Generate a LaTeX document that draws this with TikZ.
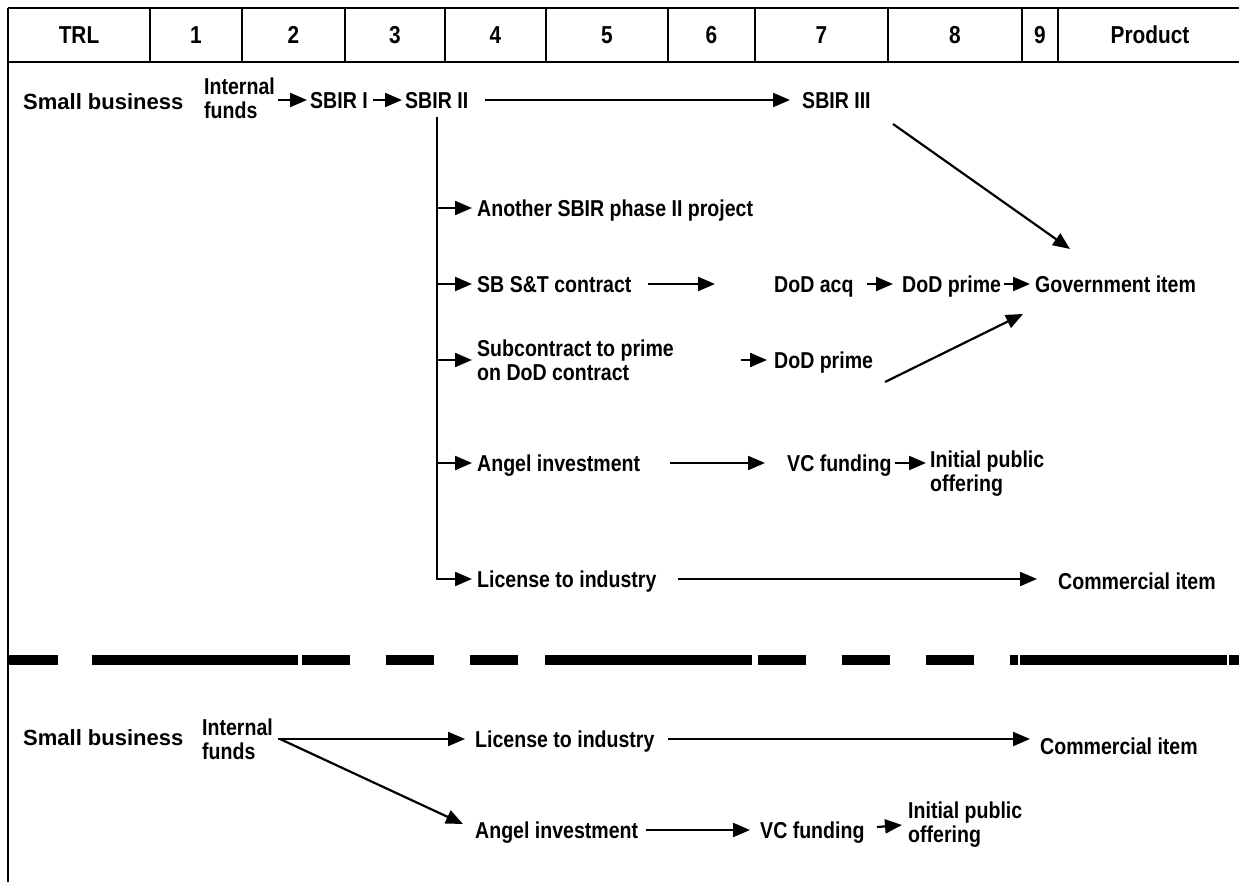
\documentclass[tikz,border=0pt]{standalone}
\usepackage{fontspec}
\setmainfont{Liberation Sans}[FakeStretch=0.85]
\newfontfamily\widesans{Liberation Sans}
\usetikzlibrary{arrows.meta,calc}
\newcommand\lblfont{\fontsize{23}{24}\selectfont\bfseries}
\newcommand\sbfont{\widesans\fontsize{22}{24}\selectfont\bfseries}
\newcommand\hdrfont{\fontsize{24.5}{26}\selectfont\bfseries}
\tikzset{
  lbl/.style={font=\lblfont, inner sep=0pt, anchor=west, text height=16.5pt, text depth=0pt},
  sbname/.style={lbl, font=\sbfont},
  lbltwo/.style={font=\lblfont, inner sep=0pt, anchor=west, align=left},
  hdr/.style={font=\hdrfont, inner sep=0pt, text height=17.5pt, text depth=0pt},
  rule/.style={line width=2.2pt},
  arr/.style={line width=2.2pt, -{Triangle[length=17pt,width=14pt]}},
  bar/.style={fill=black},
}
\begin{document}
\begin{tikzpicture}[x=1pt,y=-1pt]
\useasboundingbox (0,0) rectangle (1239,882);
\fill[white] (0,0) rectangle (1239,882);

% TRL header grid
\draw[rule] (8,8) -- (1239,8);
\draw[rule] (8,62) -- (1239,62);
\draw[rule] (8,8) -- (8,882);
\foreach \x in {150,242,345,445,546,668,755,888,1022,1058}
  \draw[rule] (\x,8) -- (\x,62);
\node[hdr] (h0) at (79,35) {TRL};
\node[hdr] (h1) at (196,35) {1};
\node[hdr] (h2) at (293.5,35) {2};
\node[hdr] (h3) at (395,35) {3};
\node[hdr] (h4) at (495.5,35) {4};
\node[hdr] (h5) at (607,35) {5};
\node[hdr] (h6) at (711.5,35) {6};
\node[hdr] (h7) at (821.5,35) {7};
\node[hdr] (h8) at (955,35) {8};
\node[hdr] (h9) at (1040,35) {9};
\node[hdr] (h10) at (1150,35) {Product};

% Upper path: small business with SBIR funding
\node[sbname] (sb1) at (23,101) {Small business};
\node[lbltwo] (if1) at (204,98) {Internal\\funds};
\node[lbl] (s1) at (310,100) {SBIR I};
\node[lbl] (s2) at (405,100) {SBIR II};
\node[lbl] (s3) at (802,100) {SBIR III};
\node[lbl] (ano) at (477,208) {Another SBIR phase II project};
\node[lbl] (sbst) at (477,284) {SB S\&T contract};
\node[lbl] (dacq) at (774,284) {DoD acq};
\node[lbl] (dp1) at (902,284) {DoD prime};
\node[lbl] (gov) at (1035,284) {Government item};
\node[lbltwo] (sub) at (477,360) {Subcontract to prime\\on DoD contract};
\node[lbl] (dp2) at (774,360) {DoD prime};
\node[lbl] (ang1) at (477,463) {Angel investment};
\node[lbl] (vc1) at (787,463) {VC funding};
\node[lbltwo] (ipo1) at (930,474) {Initial public\\offering};
\node[lbl] (lic1) at (477,579) {License to industry};
\node[lbl] (com1) at (1058,581) {Commercial item};

\draw[arr] ($(s1.west)+(-32,0)$) -- ($(s1.west)+(-3,0)$);
\draw[arr] ($(s2.west)+(-32,0)$) -- ($(s2.west)+(-3,0)$);
\draw[arr] ($(s2.west)+(80,0)$) -- ($(s3.west)+(-12,0)$);
\draw[arr] ($(s3.west)+(91,24)$) -- ($(gov.west)+(35,-35)$);

\coordinate (tr) at ($(s2.west)+(32,17)$);
\draw[arr] (tr) |- ($(lic1.west)+(-5,0)$);
\draw[arr] (tr |- ano.west) -- ($(ano.west)+(-5,0)$);
\draw[arr] (tr |- sbst.west) -- ($(sbst.west)+(-5,0)$);
\draw[arr] (tr |- sub.west) -- ($(sub.west)+(-5,0)$);
\draw[arr] (tr |- ang1.west) -- ($(ang1.west)+(-5,0)$);

\draw[arr] ($(sbst.west)+(171,0)$) -- ($(dacq.west)+(-59,0)$);
\draw[arr] ($(dacq.west)+(93,0)$) -- ($(dp1.west)+(-9,0)$);
\draw[arr] ($(dp1.west)+(102,0)$) -- ($(gov.west)+(-5,0)$);
\draw[arr] ($(dp2.west)+(-33,0)$) -- ($(dp2.west)+(-7,0)$);
\draw[arr] ($(dp2.west)+(111,22)$) -- ($(gov.west)+(-12,30)$);
\draw[arr] ($(ang1.west)+(193,0)$) -- ($(vc1.west)+(-22,0)$);
\draw[arr] ($(vc1.west)+(108,0)$) -- ($(ipo1.west |- vc1.west)+(-4,0)$);
\draw[arr] ($(lic1.west)+(201,0)$) -- ($(com1.west |- lic1.west)+(-21,0)$);

% Thick broken divider
\foreach \a/\b in {8/58,92/298,302/350,386/434,470/518,545/752,758/806,842/890,926/974,1010/1018,1020/1227,1229/1239}
  \fill[bar] (\a,655) rectangle (\b,665);

% Lower path: small business without SBIR funding
\node[sbname] (sb2) at (23,737) {Small business};
\node[lbltwo] (if2) at (202,739) {Internal\\funds};
\node[lbl] (lic2) at (475,739) {License to industry};
\node[lbl] (com2) at (1040,746) {Commercial item};
\node[lbl] (ang2) at (475,830) {Angel investment};
\node[lbl] (vc2) at (760,830) {VC funding};
\node[lbltwo] (ipo2) at (908,825) {Initial public\\offering};

\draw[arr] ($(lic2.west)+(-197,0)$) -- ($(lic2.west)+(-10,0)$);
\draw[arr] ($(lic2.west)+(-195,0)$) -- ($(ang2.west)+(-12,-6)$);
\draw[arr] ($(lic2.west)+(193,0)$) -- ($(com2.west |- lic2.west)+(-10,0)$);
\draw[arr] ($(ang2.west)+(171,0)$) -- ($(vc2.west)+(-10,0)$);
\draw[arr] ($(vc2.west)+(117,-3)$) -- ($(ipo2.west)+(-6,0)$);
\end{tikzpicture}
\end{document}
